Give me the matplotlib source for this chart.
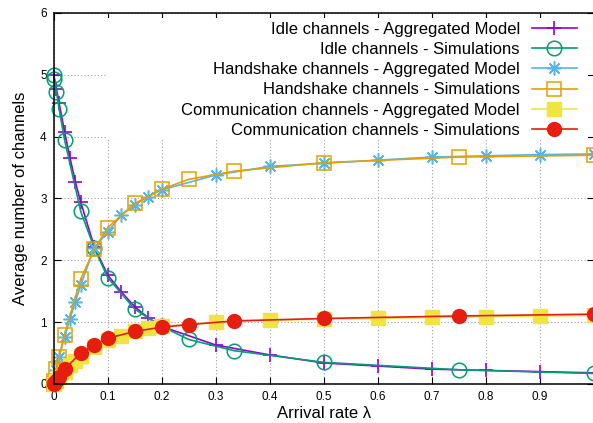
"""Average number of idle / handshake / communication channels vs arrival rate."""

import matplotlib
matplotlib.use("Agg")
import matplotlib.pyplot as plt
from matplotlib.patches import Rectangle

plt.rcParams["font.family"] = ["Liberation Sans", "DejaVu Sans"]

# aggregated model, sampled on its own grid
model_x = [0, 0.005, 0.01, 0.02, 0.03, 0.04, 0.05, 0.075, 0.1, 0.125, 0.15, 0.175, 0.2,
           0.3, 0.4, 0.5, 0.6, 0.7, 0.8, 0.9, 1.0]
idle_model = [5.0, 4.77, 4.54, 4.08, 3.66, 3.27, 2.94, 2.22, 1.76, 1.49, 1.25, 1.07, 0.93,
              0.63, 0.47, 0.34, 0.29, 0.24, 0.22, 0.20, 0.18]
hs_model = [0.0, 0.22, 0.44, 0.76, 1.05, 1.33, 1.60, 2.20, 2.46, 2.73, 2.90, 3.03, 3.14,
            3.38, 3.52, 3.57, 3.62, 3.67, 3.69, 3.71, 3.72]
comm_model = [0.0, 0.05, 0.11, 0.20, 0.30, 0.38, 0.46, 0.60, 0.71, 0.78, 0.85, 0.90, 0.93,
              1.00, 1.03, 1.05, 1.06, 1.08, 1.09, 1.10, 1.11]

# simulations
sim_x = [0, 0.001, 0.005, 0.01, 0.02, 0.05, 0.075, 0.1, 0.15, 0.2, 0.25, 0.333, 0.5, 0.75, 1.0]
idle_sim = [5.0, 4.94, 4.73, 4.45, 3.95, 2.79, 2.20, 1.72, 1.21, 0.93, 0.72, 0.54, 0.35, 0.23, 0.17]
hs_sim = [0.0, 0.05, 0.25, 0.44, 0.80, 1.70, 2.18, 2.53, 2.92, 3.15, 3.31, 3.44, 3.58, 3.67, 3.70]
comm_sim = [0.0, 0.02, 0.05, 0.12, 0.24, 0.50, 0.63, 0.74, 0.85, 0.92, 0.96, 1.02, 1.06, 1.10, 1.13]

x_ticks = [0, 0.1, 0.2, 0.3, 0.4, 0.5, 0.6, 0.7, 0.8, 0.9]
x_ticklabels = ["0", "0.1", "0.2", "0.3", "0.4", "0.5", "0.6", "0.7", "0.8", "0.9"]
y_ticks = [0, 1, 2, 3, 4, 5, 6]

series = [
    (model_x, idle_model, "Idle channels - Aggregated Model", "#9400d3",
     dict(marker="+", ms=10, mew=1.2)),
    (sim_x, idle_sim, "Idle channels - Simulations", "#009e73",
     dict(marker="o", ms=10.5, mew=1.1, mfc="none")),
    (model_x, hs_model, "Handshake channels - Aggregated Model", "#56b4e9",
     dict(marker=(8, 2, 0), ms=10, mew=1.1)),
    (sim_x, hs_sim, "Handshake channels - Simulations", "#e69f00",
     dict(marker="s", ms=10, mew=1.1, mfc="none")),
    (model_x, comm_model, "Communication channels - Aggregated Model", "#f0e442",
     dict(marker="s", ms=10)),
    (sim_x, comm_sim, "Communication channels - Simulations", "#e51e10",
     dict(marker="o", ms=10)),
]

fig = plt.figure(figsize=(5.93, 4.23), dpi=100)
ax = fig.add_axes([0.0906, 0.0922, 0.9111, 0.8771])

for xs, ys, label, color, style in series:
    ax.plot(xs, ys, color=color, lw=1.2, label=label, clip_on=False, **style)

ax.set_xlim(0, 1)
ax.set_ylim(0, 6)
ax.set_xticks(x_ticks)
ax.set_xticklabels(x_ticklabels)
ax.set_yticks(y_ticks)
ax.tick_params(direction="in", length=5, width=0.8, top=True, right=True,
               labelsize=8.5, pad=5)
for s in ax.spines.values():
    s.set_linewidth(1.1)
ax.set_axisbelow(True)
ax.grid(color="#a0a0a0", linestyle=(0, (1, 2)), linewidth=0.8)

# opaque key box hides the grid behind the legend
ax.add_patch(Rectangle((0.0985, 3.985), 0.89, 1.93, facecolor="white",
                       edgecolor="none", zorder=1))

ax.set_xlabel("Arrival rate λ", fontsize=12, labelpad=2)
ax.set_ylabel("Average number of channels", fontsize=12, labelpad=9)

leg = ax.legend(loc="upper right", bbox_to_anchor=(0.9685, 0.976), frameon=False,
                markerfirst=False, fontsize=12, handlelength=2.7, handletextpad=0.72,
                labelspacing=0.31, borderpad=0, borderaxespad=0)

fig.savefig("out.png", dpi=100)
